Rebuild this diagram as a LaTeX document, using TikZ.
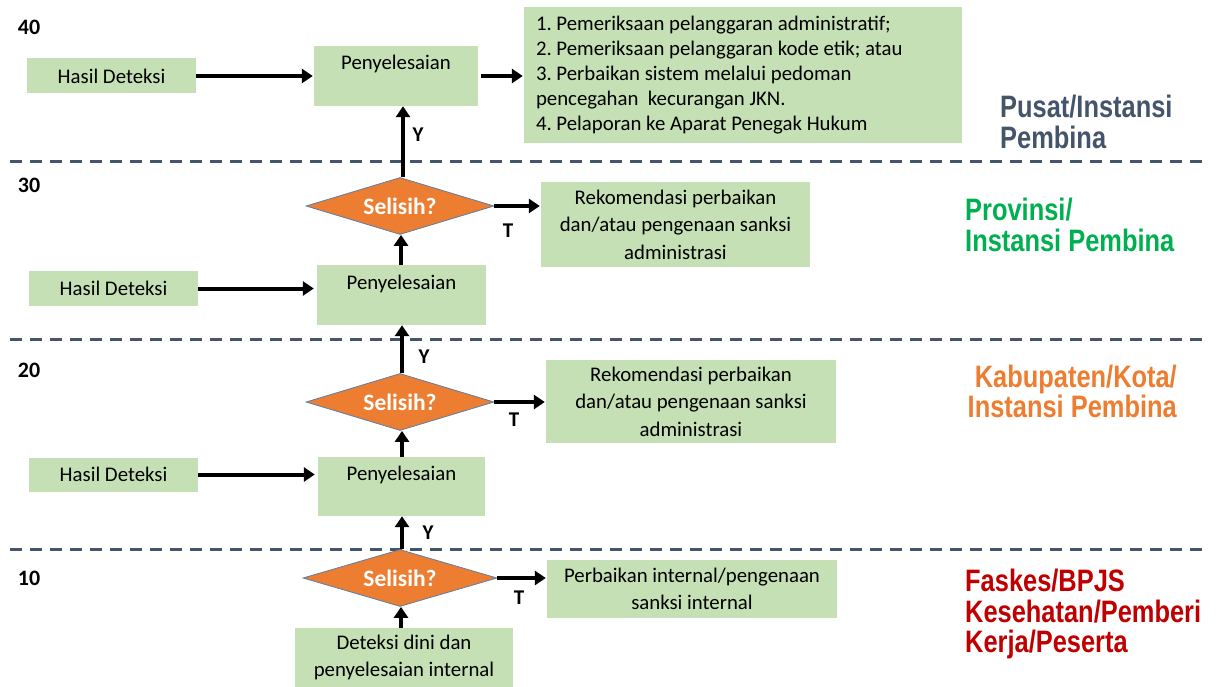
\documentclass[tikz,border=0pt]{standalone}
\usepackage{fontspec}
\setmainfont{Carlito}
\newfontfamily\nar[FakeStretch=0.82]{Liberation Sans}
\usetikzlibrary{shapes.geometric,arrows.meta}
\definecolor{boxg}{HTML}{C5E0B4}
\definecolor{dorange}{HTML}{ED7D31}
\definecolor{dedge}{HTML}{5B7FA6}
\definecolor{slate}{HTML}{44546A}
\definecolor{pgreen}{HTML}{00B050}
\definecolor{kred}{HTML}{C00000}
\frenchspacing
\begin{document}
\frenchspacing
\begin{tikzpicture}[x=1pt,y=-1pt,
  box/.style={fill=boxg, draw=none, inner sep=0pt, align=center, font=\frenchspacing\fontsize{20.8}{27.5}\selectfont},
  pbox/.style={box, text height=14pt, text depth=26pt},
  dia/.style={diamond, shape aspect=3.3, fill=dorange, draw=dedge, line width=0.8pt, inner sep=0pt,
    text=white, font=\bfseries\fontsize{23.5}{23.5}\selectfont, minimum width=188pt, minimum height=57pt},
  arr/.style={line width=4pt, -{Triangle[width=14pt,length=11pt]}},
  lab/.style={inner sep=0pt, font=\bfseries\fontsize{21}{21}\selectfont},
  lvl/.style={inner sep=0pt, font=\nar\bfseries\fontsize{31}{30.5}\selectfont},
  dline/.style={draw=slate, line width=3pt, dash pattern=on 12pt off 8pt}
]
\path[use as bounding box] (0,0) rectangle (1224,687);

% dashed separators
\draw[dline] (10,162) -- (1202,162);
\draw[dline] (10,339) -- (1202,339);
\draw[dline] (10,549) -- (1202,549);

% level numbers
\node[lab, font=\bfseries\fontsize{22}{22}\selectfont] (n40) at (29,27) {40};
\node[lab, font=\bfseries\fontsize{22}{22}\selectfont] (n30) at (29,185) {30};
\node[lab, font=\bfseries\fontsize{22}{22}\selectfont] (n20) at (29,370) {20};
\node[lab, font=\bfseries\fontsize{22}{22}\selectfont] (n10) at (29,578) {10};

% level 40
\node[box, minimum width=169pt, minimum height=35pt] (h40) at (111.5,76) {Hasil Deteksi};
\node[pbox, minimum width=164pt, minimum height=60pt] (p40) at (396,76) {Penyelesaian};
\node[box, align=flush left, text width=414pt, minimum width=438pt, minimum height=136pt,
  font=\frenchspacing\fontsize{20.8}{25}\selectfont] (list) at (743,75)
  {1. Pemeriksaan pelanggaran administratif;\\
   2. Pemeriksaan pelanggaran kode etik; atau\\
   3. Perbaikan sistem melalui pedoman\\
   pencegahan\ \ kecurangan JKN.\\
   4. Pelaporan ke Aparat Penegak Hukum};

% level 30
\node[dia] (d30) at (400,206) {Selisih?};
\node[box, minimum width=269pt, minimum height=85pt] (r30) at (675.5,224.5)
  {Rekomendasi perbaikan\\dan/atau pengenaan sanksi\\administrasi};
\node[box, minimum width=169pt, minimum height=34pt] (h30) at (113.5,288.5) {Hasil Deteksi};
\node[pbox, minimum width=169pt, minimum height=60pt] (p30) at (401.5,295) {Penyelesaian};

% level 20
\node[dia] (d20) at (400,402) {Selisih?};
\node[box, minimum width=290pt, minimum height=83pt] (r20) at (691,401.5)
  {Rekomendasi perbaikan\\dan/atau pengenaan sanksi\\administrasi};
\node[box, minimum width=169pt, minimum height=34pt] (h20) at (113.5,474.5) {Hasil Deteksi};
\node[pbox, minimum width=167pt, minimum height=59pt] (p20) at (401.5,486.5) {Penyelesaian};

% level 10
\node[dia, minimum width=194pt] (d10) at (400,578) {Selisih?};
\node[box, minimum width=290pt, minimum height=58pt] (r10) at (692,589)
  {Perbaikan internal/pengenaan\\sanksi internal};
\node[box, minimum width=218pt, minimum height=59pt] (dd) at (404,657.5)
  {Deteksi dini dan\\penyelesaian internal};

% horizontal arrows
\draw[arr] (h40.east) -- ([xshift=-1pt]h40.east -| p40.west);
\draw[arr] ([xshift=3pt]p40.east) -- ([xshift=-1pt]p40.east -| list.west);
\draw[arr] (h30.east) -- ([xshift=-3pt]h30.east -| p30.west);
\draw[arr] (h20.east) -- ([xshift=-3pt]h20.east -| p20.west);
\draw[arr] (d30.east) -- ([xshift=-1pt]d30.east -| r30.west);
\draw[arr] (d20.east) -- ([xshift=-1pt]d20.east -| r20.west);
\draw[arr] (d10.east) -- ([xshift=-1pt]d10.east -| r10.west);

% vertical arrows
\draw[arr] ([xshift=3pt]d30.north) -- ([xshift=3pt]d30.north |- p40.south);
\draw[arr] ([xshift=1pt]d30.south |- p30.north) -- ([xshift=1pt]d30.south);
\draw[arr] ([xshift=2pt]d20.north) -- ([xshift=2pt]d20.north |- p30.south);
\draw[arr] ([xshift=2pt]d20.south |- p20.north) -- ([xshift=2pt]d20.south);
\draw[arr] ([xshift=2pt]d10.north) -- ([xshift=2pt]d10.north |- p20.south);
\draw[arr] ([xshift=1pt]d10.south |- dd.north) -- ([xshift=1pt]d10.south);

% Y / T labels
\node[lab] (y40) at (418,135) {Y};
\node[lab] (t30) at (508,231) {T};
\node[lab] (y30) at (424,357) {Y};
\node[lab] (t20) at (514,420) {T};
\node[lab] (y20) at (428,533) {Y};
\node[lab] (t10) at (519,598) {T};

% level captions
\node[lvl, text=slate, anchor=west, align=left] (c40) at (1000,122) {Pusat/Instansi\\Pembina};
\node[lvl, text=pgreen, anchor=west, align=left] (c30) at (965,225) {Provinsi/\\Instansi Pembina};
\node[lvl, text=dorange, anchor=east, align=right] (c20) at (1177,391.5) {Kabupaten/Kota/\\Instansi Pembina};
\node[lvl, text=kred, anchor=west, align=left] (c10) at (965,614) {Faskes/BPJS\\Kesehatan/Pemberi\\Kerja/Peserta};
\end{tikzpicture}
\end{document}
